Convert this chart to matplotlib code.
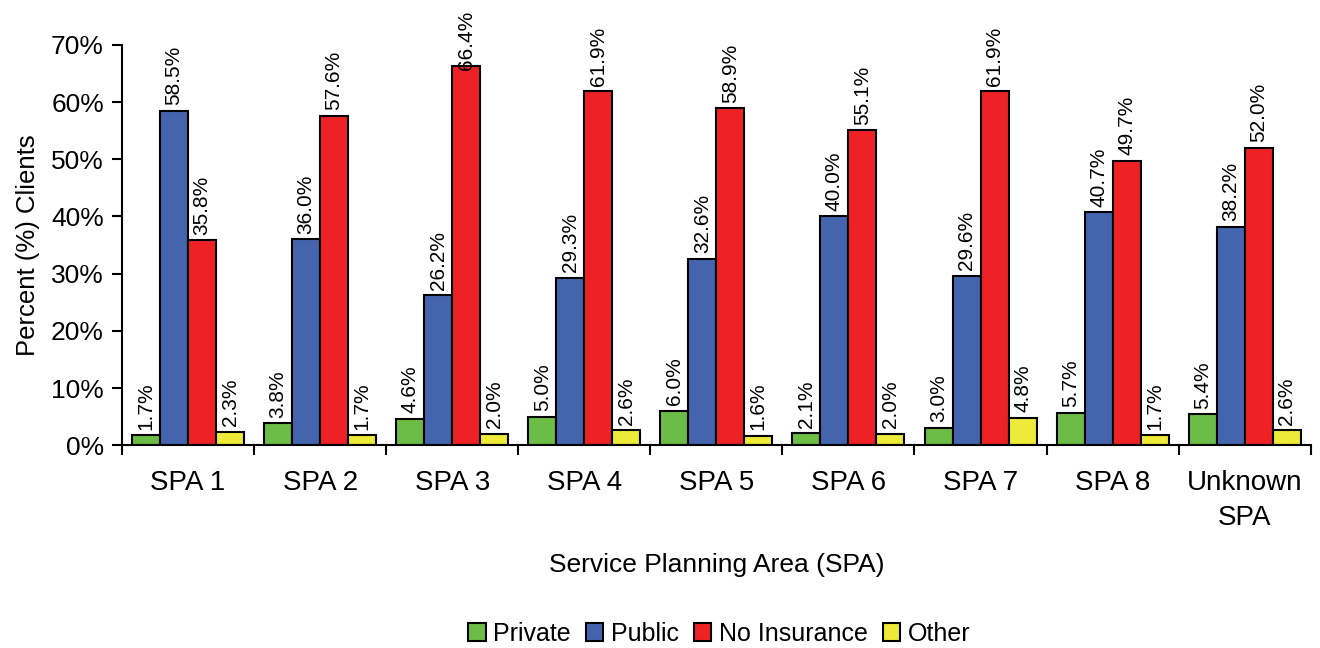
import numpy as np
import matplotlib

matplotlib.use("Agg")
import matplotlib.pyplot as plt
from matplotlib.ticker import PercentFormatter

plt.rcParams["font.family"] = ["Liberation Sans", "DejaVu Sans"]

# ============================================
# DATA
# ============================================

categories = ["SPA 1", "SPA 2", "SPA 3", "SPA 4", "SPA 5", "SPA 6", "SPA 7", "SPA 8", "Unknown\nSPA"]
private = [1.7, 3.8, 4.6, 5.0, 6.0, 2.1, 3.0, 5.7, 5.4]
public = [58.5, 36.0, 26.2, 29.3, 32.6, 40.0, 29.6, 40.7, 38.2]
no_insurance = [35.8, 57.6, 66.4, 61.9, 58.9, 55.1, 61.9, 49.7, 52.0]
other = [2.3, 1.7, 2.0, 2.6, 1.6, 2.0, 4.8, 1.7, 2.6]

series = [
    ("Private", private, "#6cbd45"),
    ("Public", public, "#4465ad"),
    ("No Insurance", no_insurance, "#ee2224"),
    ("Other", other, "#eeea3a"),
]

# ============================================
# PLOT
# ============================================

fig = plt.figure(figsize=(13.2, 6.48), dpi=100)
ax = fig.add_axes([0.0924, 0.313, 0.9006, 0.6176])

x = np.arange(len(categories))
width = 0.212
offsets = (np.arange(len(series)) - 1.5) * width
label_ceiling = 76.0  # labels that would run off the top get pushed down onto the bar

for (name, vals, color), off in zip(series, offsets):
    bars = ax.bar(x + off, vals, width, color=color, edgecolor="black", linewidth=1.5, label=name)
    for b, v in zip(bars, vals):
        cx = b.get_x() + b.get_width() / 2
        if v + 11.5 > label_ceiling:
            ax.text(cx, label_ceiling, f"{v:.1f}%", rotation=90, ha="center",
                    va="top", fontsize=15, clip_on=False)
        else:
            ax.annotate(
                f"{v:.1f}%",
                (cx, b.get_height()),
                xytext=(0, 4),
                textcoords="offset points",
                rotation=90,
                ha="center",
                va="bottom",
                fontsize=15,
            )

ax.set_xlim(-0.5, len(categories) - 0.5)
ax.set_ylim(0, 70)
ax.yaxis.set_major_formatter(PercentFormatter(decimals=0))
ax.set_yticks(np.arange(0, 71, 10))

ax.set_xticks(np.arange(len(categories) + 1) - 0.5)
ax.set_xticklabels([])
ax.set_xticks(x, minor=True)
ax.set_xticklabels(categories, minor=True, fontsize=20, linespacing=1.45)
ax.tick_params(axis="x", which="minor", length=0, pad=18)
ax.tick_params(axis="x", which="major", length=7, width=1.5, direction="out")
ax.tick_params(axis="y", labelsize=19, length=7, width=1.5, direction="out", pad=6)

for s in ["top", "right"]:
    ax.spines[s].set_visible(False)
for s in ["left", "bottom"]:
    ax.spines[s].set_linewidth(1.5)

ax.set_ylabel("Percent (%) Clients", fontsize=18.5, labelpad=8)
ax.set_xlabel("Service Planning Area (SPA)", fontsize=19, labelpad=15.5)

fig.legend(
    loc="center",
    bbox_to_anchor=(0.545, 0.022),
    ncol=4,
    frameon=False,
    fontsize=18,
    handlelength=0.7,
    handleheight=0.7,
    handletextpad=0.3,
    columnspacing=0.6,
)

fig.savefig("out.png", dpi=100)
plt.close()
